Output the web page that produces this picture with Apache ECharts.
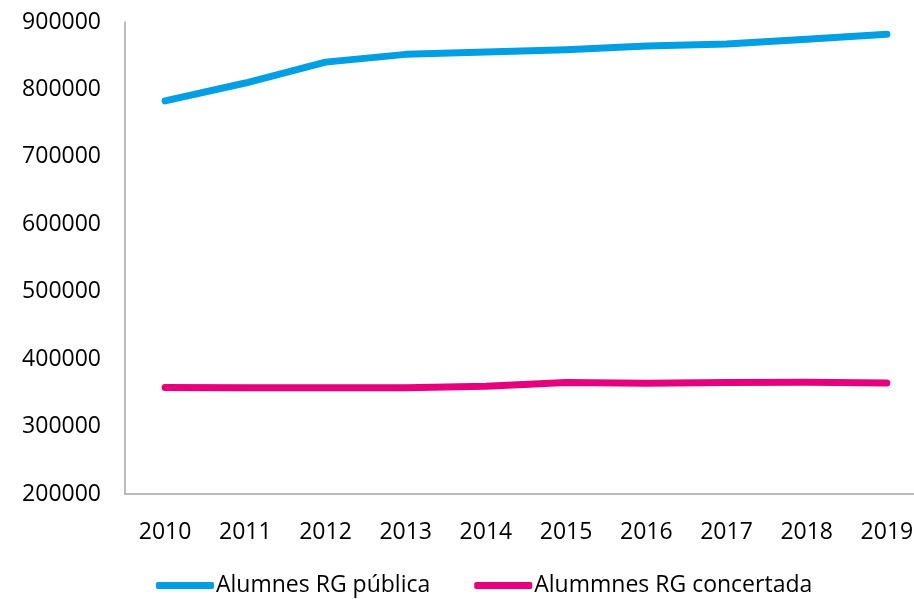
<!DOCTYPE html>
<html>
<head>
<meta charset="utf-8">
<script src="https://cdn.jsdelivr.net/npm/echarts@6/dist/echarts.min.js"></script>
<style>
    html, body { margin: 0; padding: 0; background: #fff; }
    #chart { width: 914px; height: 599px; }
</style>
</head>
<body>
<div id="chart"></div>
<script>
// dades
var years = ['2010', '2011', '2012', '2013', '2014', '2015', '2016', '2017', '2018', '2019'];
var publica = [783000, 809500, 840500, 852000, 855500, 859000, 864500, 867500, 874500, 882000];
var concertada = [357800, 357700, 357500, 357500, 359800, 365500, 364200, 365200, 365600, 364800];
var yTicks = [200000, 300000, 400000, 500000, 600000, 700000, 800000, 900000];

var chart = echarts.init(document.getElementById('chart'));
var font = '"Open Sans", sans-serif';

var option = {
    animation: false,
    backgroundColor: '#fff',
    textStyle: { fontFamily: font },
    legend: {
        bottom: -3,
        left: 151,
        itemWidth: 58,
        itemHeight: 7,
        itemGap: 44,
        icon: 'roundRect',
        textStyle: { color: '#000', fontSize: 23, fontFamily: font, padding: [0, 0, 0, -3] },
        data: ['Alumnes RG pública', 'Alummnes RG concertada']
    },
    grid: {
        left: 125,
        top: 22,
        bottom: 105,
        width: 802,
        outerBoundsMode: 'none',
        containLabel: false
    },
    xAxis: {
        type: 'category',
        data: years,
        boundaryGap: true,
        axisLine: { lineStyle: { color: '#a6a6a6', width: 1.5 } },
        axisTick: { show: false },
        axisLabel: { color: '#000', fontSize: 23, fontFamily: font, margin: 27 }
    },
    yAxis: {
        type: 'value',
        min: yTicks[0],
        max: yTicks[yTicks.length - 1],
        interval: 100000,
        splitLine: { show: false },
        axisLine: { show: true, lineStyle: { color: '#a6a6a6', width: 1.5 } },
        axisTick: { show: false },
        axisLabel: {
            color: '#000', fontSize: 23, fontFamily: font, margin: 24,
            formatter: function (v) { return String(v); }
        }
    },
    series: [
        {
            name: 'Alumnes RG pública',
            type: 'line',
            data: publica,
            symbol: 'none',
            color: '#009fe3',
            lineStyle: { width: 7, cap: 'round', join: 'round' }
        },
        {
            name: 'Alummnes RG concertada',
            type: 'line',
            data: concertada,
            symbol: 'none',
            color: '#e6007e',
            lineStyle: { width: 7, cap: 'round', join: 'round' }
        }
    ]
};

chart.setOption(option);
</script>
</body>
</html>
